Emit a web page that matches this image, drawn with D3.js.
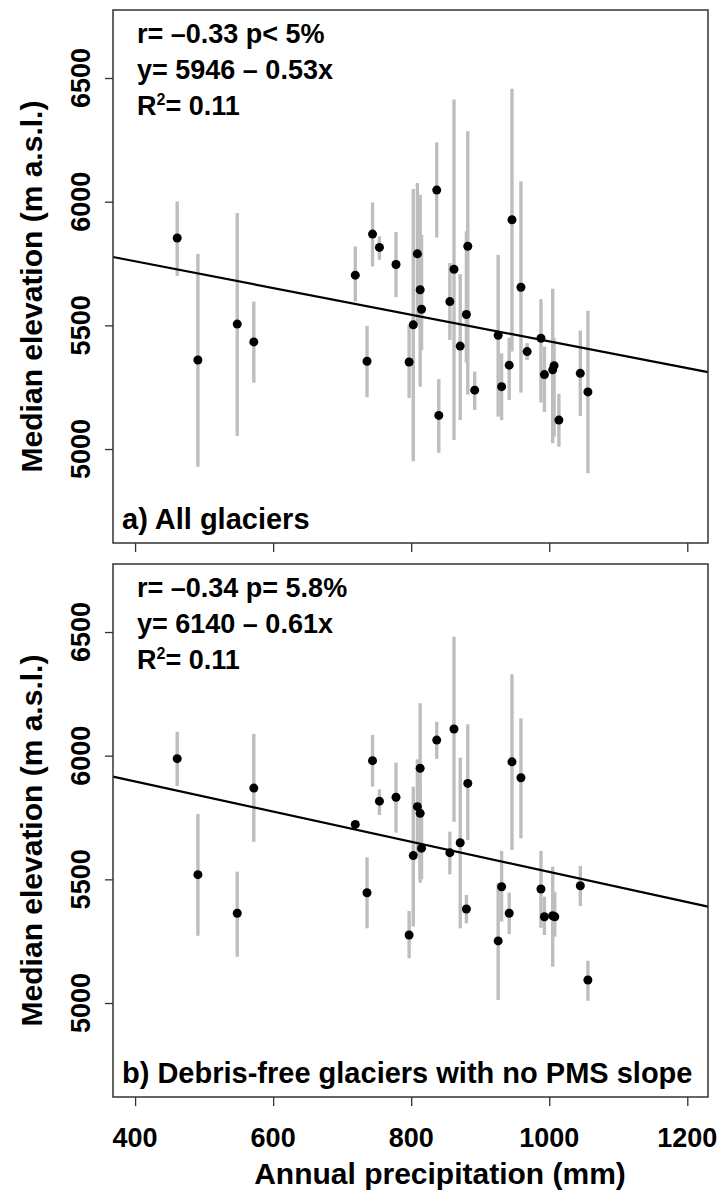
<!DOCTYPE html>
<html>
<head>
<meta charset="utf-8">
<script src="https://cdn.jsdelivr.net/npm/d3@7"></script>
<style>
  body { margin: 0; background: #fff; }
  text { font-family: "Liberation Sans", Arial, sans-serif; font-weight: bold; fill: #000; }
</style>
</head>
<body>
<div id="chart"></div>
<script>
// panel a) all glaciers
const precipA = [461, 491, 548, 572, 719, 736, 744, 754, 778, 797, 803, 809, 813, 815, 837, 840, 856, 862, 871, 880, 882, 892, 926, 931, 942, 946, 959, 968, 988, 993, 1005, 1007, 1014, 1045, 1056];
const elevA   = [5853, 5360, 5505, 5433, 5703, 5355, 5869, 5815, 5746, 5352, 5502, 5789, 5644, 5565, 6047, 5136, 5596, 5727, 5416, 5544, 5820, 5238, 5460, 5252, 5339, 5927, 5654, 5394, 5448, 5301, 5320, 5337, 5117, 5306, 5231];
const lowA    = [5700, 4928, 5053, 5268, 5596, 5209, 5738, 5765, 5614, 5206, 4951, 5500, 5252, 5400, 5855, 4985, 5441, 5036, 5117, 5350, 5220, 5158, 5131, 5117, 5198, 5394, 5228, 5360, 5188, 5150, 5023, 5050, 5009, 5134, 4902];
const highA   = [6001, 5789, 5954, 5596, 5819, 5498, 5997, 5860, 5877, 5502, 6051, 6076, 6028, 5866, 6240, 5283, 5752, 6413, 5707, 5880, 6285, 5313, 5785, 5387, 5450, 6457, 6082, 5428, 5606, 5414, 5648, 5450, 5223, 5479, 5559];

// panel b) debris-free glaciers with no PMS slope
const precipB = [461, 491, 548, 572, 719, 736, 744, 754, 778, 797, 803, 809, 813, 813, 815, 837, 856, 862, 871, 880, 882, 926, 931, 942, 946, 959, 988, 993, 1005, 1008, 1045, 1056];
const elevB   = [5988, 5519, 5363, 5869, 5722, 5446, 5980, 5816, 5832, 5275, 5596, 5794, 5767, 5949, 5626, 6063, 5608, 6108, 5648, 5380, 5888, 5251, 5470, 5363, 5975, 5911, 5461, 5349, 5353, 5349, 5474, 5093];
const lowB    = [5877, 5272, 5187, 5652, 5710, 5302, 5875, 5760, 5689, 5181, 5309, 5600, 5500, 5486, 5500, 5987, 5520, 5733, 5302, 5322, 5659, 5012, 5329, 5279, 5619, 5666, 5304, 5275, 5147, 5268, 5392, 5009];
const highB   = [6097, 5764, 5531, 6088, 5735, 5589, 6084, 5864, 5972, 5372, 5875, 5985, 5900, 6212, 5780, 6137, 5693, 6481, 5992, 5437, 6127, 5484, 5615, 5446, 6329, 6151, 5615, 5430, 5551, 5450, 5554, 5171];

// fitted lines (intercept, slope) as drawn
const fitA = [5975, -0.54];
const fitB = [6140, -0.61];

const statsA = ["r= \u20130.33 p< 5%", "y= 5946 \u2013 0.53x", "R", "= 0.11"];
const statsB = ["r= \u20130.34 p= 5.8%", "y= 6140 \u2013 0.61x", "R", "= 0.11"];
const panelLabels = ["a) All glaciers", "b) Debris-free glaciers with no PMS slope"];

const xTicks = [400, 600, 800, 1000, 1200];
const yTicks = [5000, 5500, 6000, 6500];

const width = 723, height = 1192;
const left = 113, right = 708;
const panelBoxes = [{top: 10, bottom: 543}, {top: 564, bottom: 1097}];

const svg = d3.select("#chart").append("svg")
  .attr("width", width)
  .attr("height", height);

const x = d3.scaleLinear().domain([368, 1230]).range([left, right]);

const panels = [
  {px: precipA, el: elevA, lo: lowA, hi: highA, fit: fitA, stats: statsA, label: panelLabels[0]},
  {px: precipB, el: elevB, lo: lowB, hi: highB, fit: fitB, stats: statsB, label: panelLabels[1]}
];

panels.forEach((p, i) => {
  const box = panelBoxes[i];
  const y = d3.scaleLinear().domain([4620, 6775]).range([box.bottom, box.top]);
  const g = svg.append("g");

  // error bars
  g.selectAll(".bar")
    .data(p.px)
    .enter().append("line")
    .attr("x1", d => x(d)).attr("x2", d => x(d))
    .attr("y1", (d, j) => y(p.lo[j]))
    .attr("y2", (d, j) => y(p.hi[j]))
    .attr("stroke", "#bebebe")
    .attr("stroke-width", 3.4);

  // regression line
  const xd = x.domain();
  g.append("line")
    .attr("x1", x(xd[0])).attr("y1", y(p.fit[0] + p.fit[1] * xd[0]))
    .attr("x2", x(xd[1])).attr("y2", y(p.fit[0] + p.fit[1] * xd[1]))
    .attr("stroke", "#000")
    .attr("stroke-width", 2.2);

  // points
  g.selectAll(".pt")
    .data(p.px)
    .enter().append("circle")
    .attr("cx", d => x(d))
    .attr("cy", (d, j) => y(p.el[j]))
    .attr("r", 4.5)
    .attr("fill", "#000");

  // frame
  g.append("rect")
    .attr("x", left).attr("y", box.top)
    .attr("width", right - left).attr("height", box.bottom - box.top)
    .attr("fill", "none")
    .attr("stroke", "#333")
    .attr("stroke-width", 1.5);

  // y axis
  const yAxis = g.append("g")
    .attr("transform", "translate(" + left + ",0)")
    .call(d3.axisLeft(y).tickValues(yTicks).tickSize(8).tickFormat(""));
  yAxis.select(".domain").remove();
  yAxis.selectAll("line").attr("stroke", "#333").attr("stroke-width", 1.3);

  g.selectAll(".ylab")
    .data(yTicks)
    .enter().append("text")
    .attr("transform", d => "translate(90," + y(d) + ") rotate(-90)")
    .attr("text-anchor", "middle")
    .style("font-size", "27px")
    .text(d => d);

  // x axis ticks
  const xAxis = g.append("g")
    .attr("transform", "translate(0," + box.bottom + ")")
    .call(d3.axisBottom(x).tickValues(xTicks).tickSize(9).tickFormat(""));
  xAxis.select(".domain").remove();
  xAxis.selectAll("line").attr("stroke", "#333").attr("stroke-width", 1.3);

  // y title
  g.append("text")
    .attr("transform", "translate(42," + ((box.top + box.bottom) / 2 + 10) + ") rotate(-90)")
    .attr("text-anchor", "middle")
    .style("font-size", "30px")
    .text("Median elevation (m a.s.l.)");

  // stats text
  const t = g.append("g").style("font-size", "27px");
  t.append("text").attr("x", 137).attr("y", box.top + 33).text(p.stats[0]);
  t.append("text").attr("x", 137).attr("y", box.top + 69).text(p.stats[1]);
  const r2 = t.append("text").attr("x", 137).attr("y", box.top + 105);
  r2.append("tspan").text(p.stats[2]);
  r2.append("tspan").attr("dy", -10).style("font-size", "16px").text("2");
  r2.append("tspan").attr("dy", 10).text(p.stats[3]);

  // panel label
  g.append("text")
    .attr("x", 122).attr("y", box.bottom - 14)
    .style("font-size", "29px")
    .text(p.label);
});

// x labels on bottom panel
const bottomBox = panelBoxes[1];
svg.selectAll(".xlab")
  .data(xTicks)
  .enter().append("text")
  .attr("x", d => x(d))
  .attr("y", bottomBox.bottom + 50)
  .attr("text-anchor", "middle")
  .style("font-size", "27px")
  .text(d => d);

svg.append("text")
  .attr("x", 440)
  .attr("y", bottomBox.bottom + 87)
  .attr("text-anchor", "middle")
  .style("font-size", "30px")
  .text("Annual precipitation (mm)");
</script>
</body>
</html>
